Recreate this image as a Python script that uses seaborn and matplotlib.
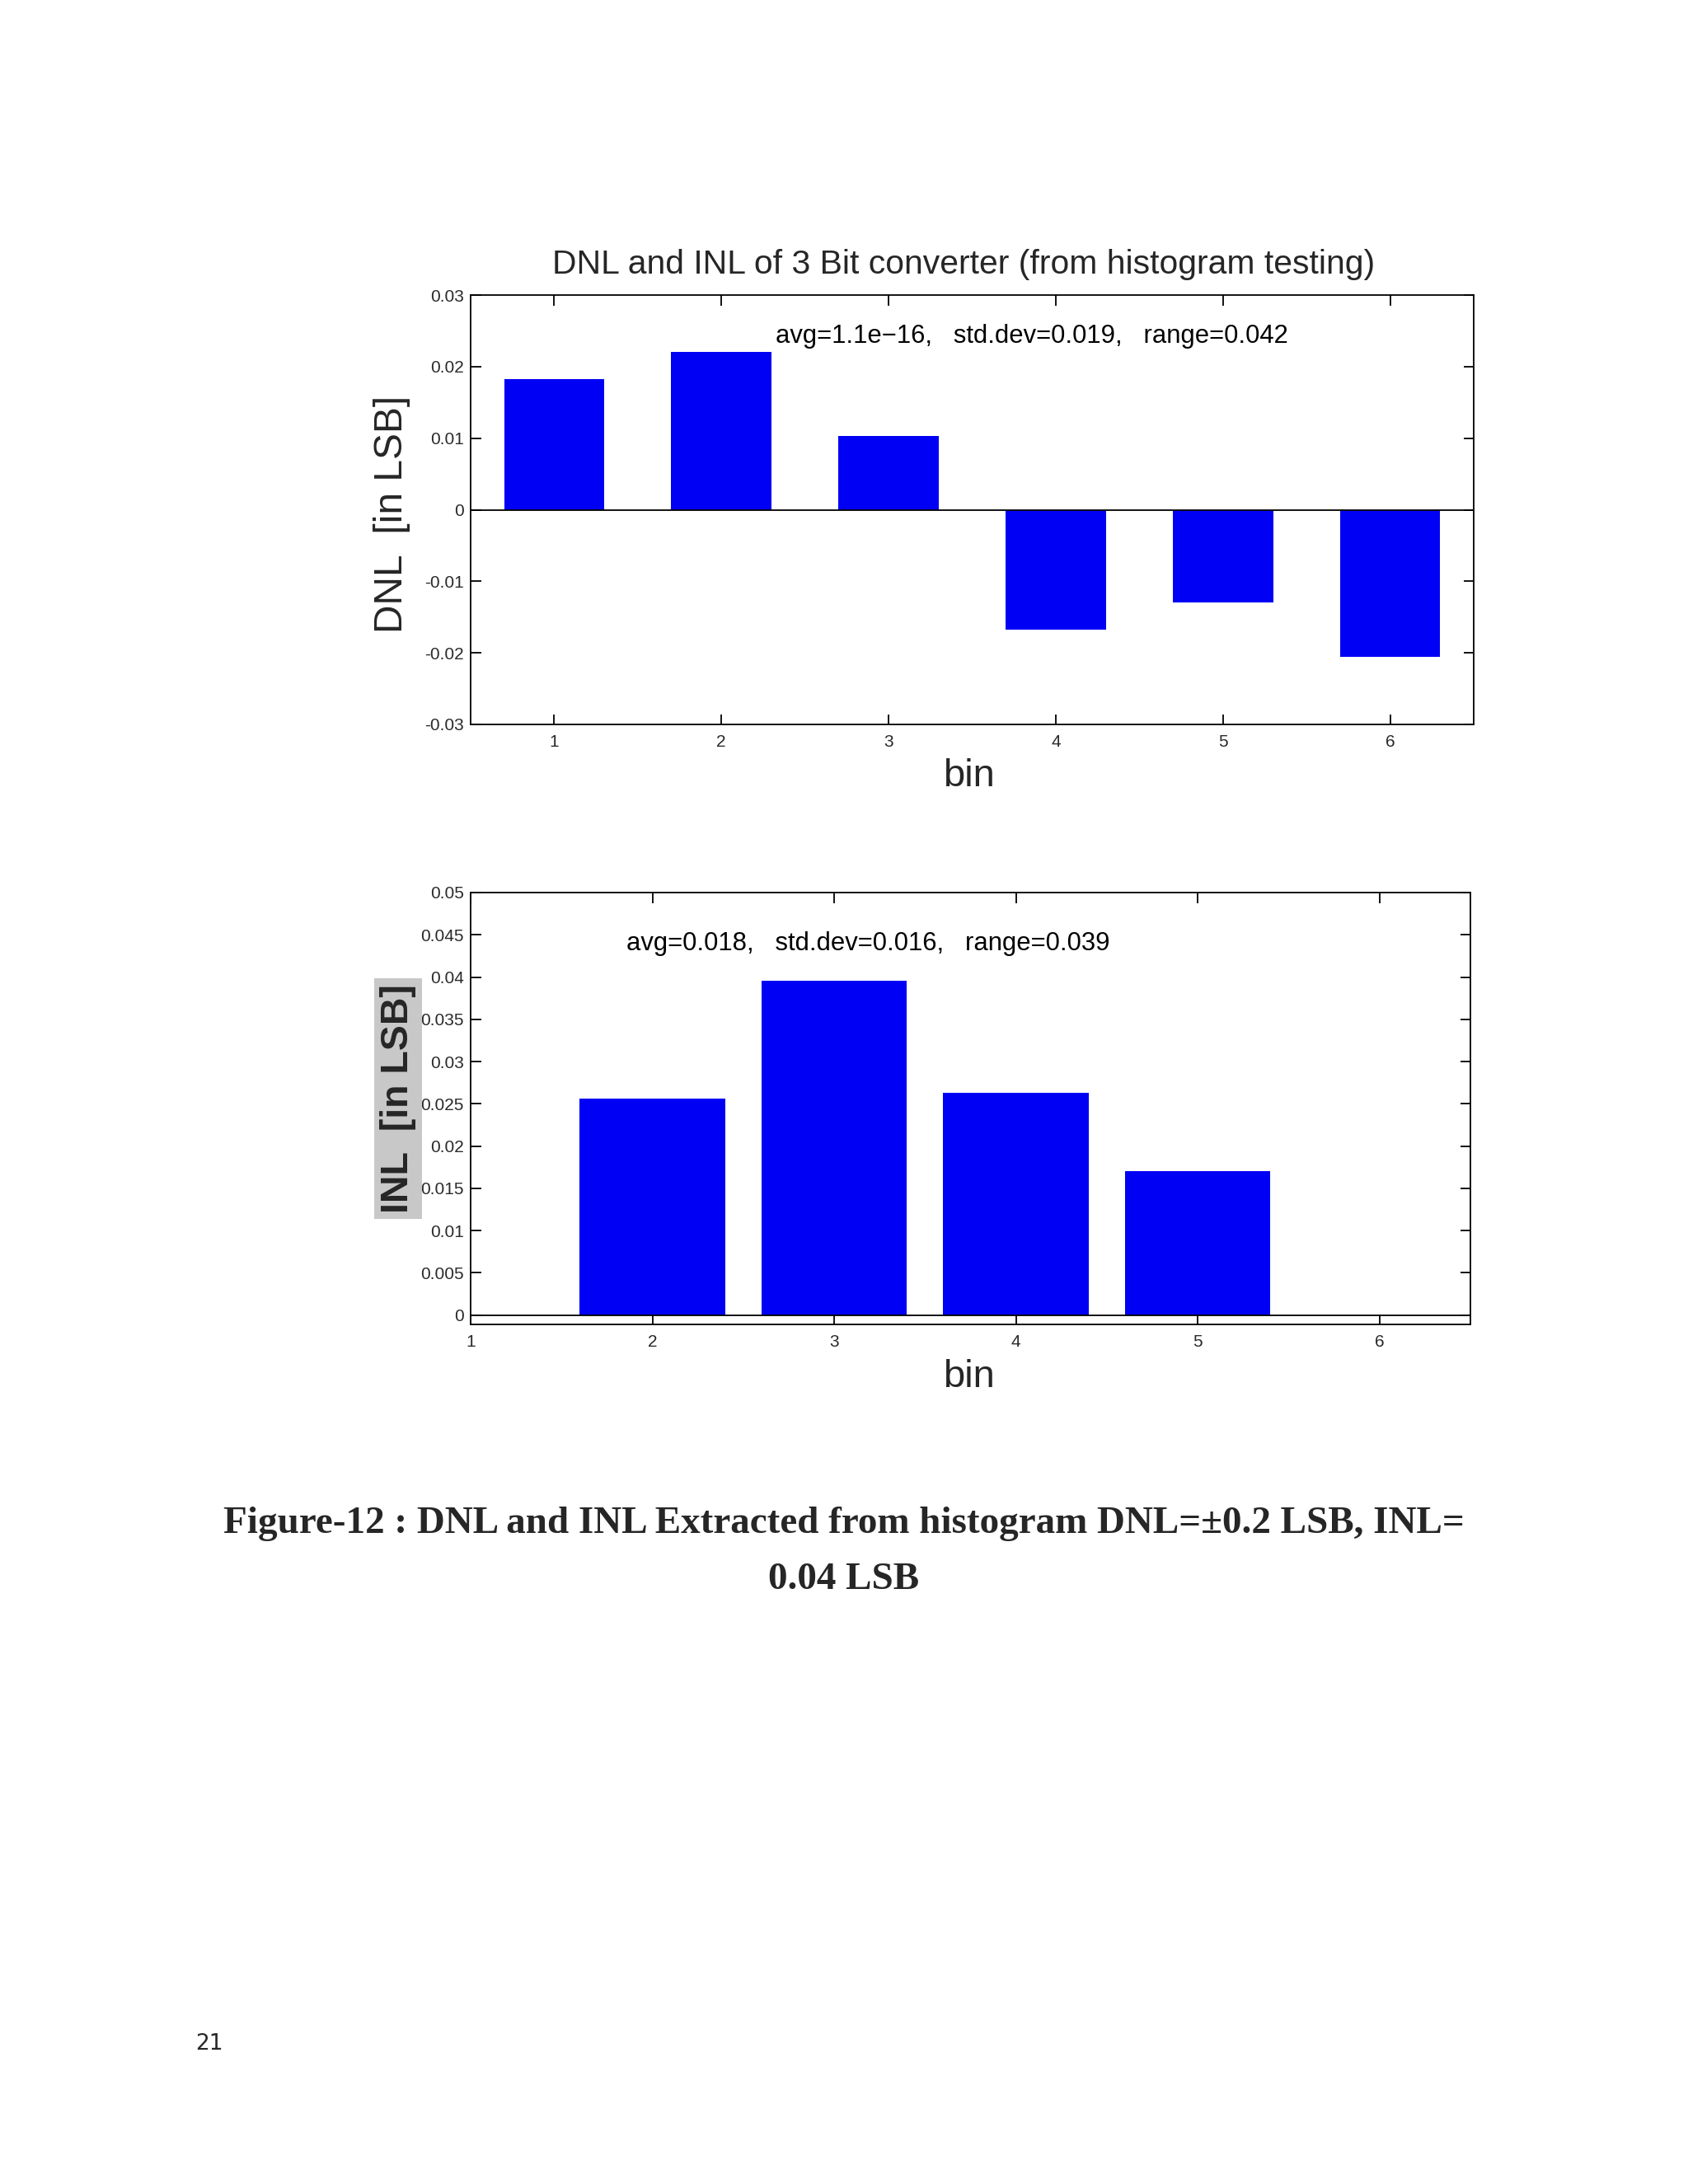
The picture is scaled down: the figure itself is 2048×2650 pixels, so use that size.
import matplotlib
matplotlib.use("Agg")
import matplotlib.pyplot as plt
import seaborn as sns
import numpy as np
import pandas as pd

# ---- data ----
bins = [1, 2, 3, 4, 5, 6]
dnl_values = [0.0182, 0.0220, 0.0103, -0.0167, -0.0129, -0.0205]
inl_values = [0.0, 0.0256, 0.0396, 0.0263, 0.0170, 0.0]
dnl_ticks = [-0.03, -0.02, -0.01, 0, 0.01, 0.02, 0.03]
dnl_ticklabels = ["-0.03", "-0.02", "-0.01", "0", "0.01", "0.02", "0.03"]
inl_ticks = [0, 0.005, 0.01, 0.015, 0.02, 0.025, 0.03, 0.035, 0.04, 0.045, 0.05]
inl_ticklabels = ["0", "0.005", "0.01", "0.015", "0.02", "0.025", "0.03",
                  "0.035", "0.04", "0.045", "0.05"]
title_text = "DNL and INL of 3 Bit converter (from histogram testing)"
dnl_stats = "avg=1.1e\u221216,   std.dev=0.019,   range=0.042"
inl_stats = "avg=0.018,   std.dev=0.016,   range=0.039"
caption1 = "Figure-12 : DNL and INL Extracted from histogram DNL=\u00b10.2 LSB, INL="
caption2 = "0.04 LSB"

sns.set_style("ticks")
plt.rcParams["font.family"] = ["Liberation Sans", "DejaVu Sans"]

W, H = 2048, 2650
fig = plt.figure(figsize=(W / 100, H / 100), dpi=100)
fig.patch.set_facecolor("white")

def fx(px):
    return px / W

def fy(py):
    return 1 - py / H

ax1 = fig.add_axes([fx(571), fy(879), (1788 - 571) / W, (879 - 358) / H])
ax2 = fig.add_axes([fx(571), fy(1607), (1784 - 571) / W, (1607 - 1083) / H])

BLUE = "#0000f5"
df1 = pd.DataFrame({"bin": bins, "v": dnl_values})
df2 = pd.DataFrame({"bin": bins, "v": inl_values})

sns.barplot(data=df1, x="bin", y="v", native_scale=True, width=0.6,
            color=BLUE, saturation=1, linewidth=0, errorbar=None, ax=ax1)
sns.barplot(data=df2, x="bin", y="v", native_scale=True, width=0.8,
            color=BLUE, saturation=1, linewidth=0, errorbar=None, ax=ax2)

for ax in (ax1, ax2):
    ax.axhline(0, color="black", lw=1.3, zorder=3)
    ax.set_xlabel("")
    ax.set_ylabel("")
    for s in ax.spines.values():
        s.set_visible(True)
        s.set_linewidth(1.3)
        s.set_color("black")
    ax.tick_params(direction="in", top=True, right=True, length=9, width=1.3,
                   labelsize=15, labelcolor="#2a2a2a", color="black")
    ax.tick_params(axis="y", pad=6)
    ax.tick_params(axis="x", pad=9)
    ax.set_xticks(bins)
    ax.set_xticklabels([str(b) for b in bins])

ax1.set_xlim(0.5, 6.5)
ax1.set_ylim(-0.03, 0.03)
ax1.set_yticks(dnl_ticks)
ax1.set_yticklabels(dnl_ticklabels)

ax2.set_xlim(1, 6.5)
ax2.set_ylim(-0.0011, 0.05)
ax2.set_yticks(inl_ticks)
ax2.set_yticklabels(inl_ticklabels)

ax1.text(2.325, 0.0242, dnl_stats, fontsize=22.3, va="center", ha="left", color="black")
ax2.text(1.859, 0.0440, inl_stats, fontsize=22.3, va="center", ha="left", color="black")

fig.text(fx(1169), fy(321), title_text, fontsize=29.4, ha="center", va="center")

fig.text(fx(475), fy(624), "DNL  [in LSB]", fontsize=34.5, rotation=90,
         ha="center", va="center")
fig.text(fx(483), fy(1333), "INL  [in LSB]", fontsize=33.5, rotation=90,
         ha="center", va="center", fontweight="bold",
         bbox=dict(facecolor="#c8c8c8", edgecolor="none", pad=5))
fig.text(fx(1175), fy(942), "bin", fontsize=34, ha="center", va="center")
fig.text(fx(1175), fy(1671), "bin", fontsize=34, ha="center", va="center")

fig.text(fx(1024), fy(1849), caption1, fontsize=33.9, ha="center", va="center",
         family=["Liberation Serif", "DejaVu Serif"], fontweight="bold")
fig.text(fx(1024), fy(1917), caption2, fontsize=33.9, ha="center", va="center",
         family=["Liberation Serif", "DejaVu Serif"], fontweight="bold")

fig.text(fx(254), fy(2480), "21", fontsize=19, ha="center", va="center",
         family=["DejaVu Sans"])

fig.savefig("out.png", dpi=100)
